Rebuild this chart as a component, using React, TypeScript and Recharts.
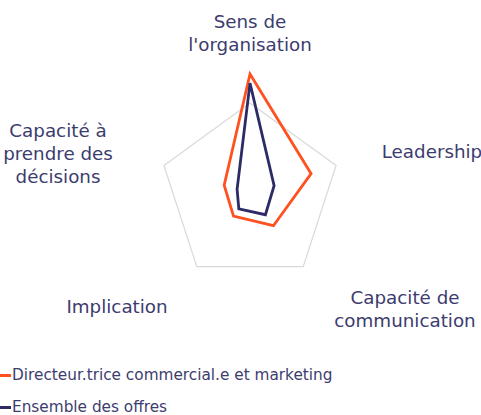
import React from 'react';
import { RadarChart, Radar, PolarGrid, PolarAngleAxis, PolarRadiusAxis, Legend } from 'recharts';

const categories = [
  "Sens de l'organisation",
  'Leadership',
  'Capacité de communication',
  'Implication',
  'Capacité à prendre des décisions',
];
const categoryLines = [
  ['Sens de', "l'organisation"],
  ['Leadership'],
  ['Capacité de', 'communication'],
  ['Implication'],
  ['Capacité à', 'prendre des', 'décisions'],
];
const directeurValues = [132, 71, 44, 31, 30];
const ensembleValues = [122, 28, 29, 21, 15];
const seriesNames = ['Directeur.trice commercial.e et marketing', 'Ensemble des offres'];

const data = categories.map((c, i) => ({
  axis: c,
  directeur: directeurValues[i],
  ensemble: ensembleValues[i],
}));

const CX = 250;
const CY = 193.5;
const R = 90.5;
const TEXT = '#3c3c6e';
const ORANGE = '#ff5020';
const NAVY = '#2c2b66';
const FONT = '"DejaVu Sans", sans-serif';

// label centre offsets relative to chart centre
const labelOffsets = [
  [0, -161],
  [182, -42],
  [155, 115],
  [-133, 113],
  [-192, -40],
];

const AngleTick = (props: any) => {
  const idx = props.index;
  const lines = categoryLines[idx];
  const [dx, dy] = labelOffsets[idx];
  const lh = 23;
  const x = CX + dx;
  const y0 = CY + dy - ((lines.length - 1) * lh) / 2;
  return (
    <text x={x} y={y0} textAnchor="middle" fill={TEXT} fontFamily={FONT} fontSize={18.3}>
      {lines.map((l, i) => (
        <tspan key={i} x={x} y={y0 + i * lh} dominantBaseline="central">
          {l}
        </tspan>
      ))}
    </text>
  );
};

const LegendContent = (props: any) => {
  const payload = props.payload || [];
  return (
    <div style={{ fontFamily: FONT, fontSize: 15.3, color: TEXT }}>
      {payload.map((p: any, i: number) => (
        <div key={i} style={{ display: 'flex', alignItems: 'center', height: 32 }}>
          <span style={{ display: 'inline-block', width: 11, height: 3, background: p.color, marginRight: 1 }} />
          <span>{p.value}</span>
        </div>
      ))}
    </div>
  );
};

export default function App() {
  return (
    <div style={{ position: 'absolute', left: 0, top: 0, width: 481, height: 415, background: '#fff' }}>
      <RadarChart width={481} height={415} data={data} cx={CX} cy={CY} outerRadius={R}>
        <PolarGrid gridType="polygon" radialLines={false} polarRadius={[R]} stroke="#d9d9d9" strokeWidth={1.2} />
        <PolarAngleAxis dataKey="axis" tick={AngleTick} axisLine={false} tickLine={false} />
        <PolarRadiusAxis domain={[0, 100]} allowDataOverflow tick={false} axisLine={false} />
        <Radar
          name={seriesNames[0]}
          dataKey="directeur"
          stroke={ORANGE}
          strokeWidth={2.8}
          fill="none"
          fillOpacity={0}
          dot={false}
          isAnimationActive={false}
        />
        <Radar
          name={seriesNames[1]}
          dataKey="ensemble"
          stroke={NAVY}
          strokeWidth={2.8}
          fill="none"
          fillOpacity={0}
          dot={false}
          isAnimationActive={false}
        />
        <Legend
          content={LegendContent}
          wrapperStyle={{ position: 'absolute', left: 0, top: 359, width: 400 }}
        />
      </RadarChart>
    </div>
  );
}
